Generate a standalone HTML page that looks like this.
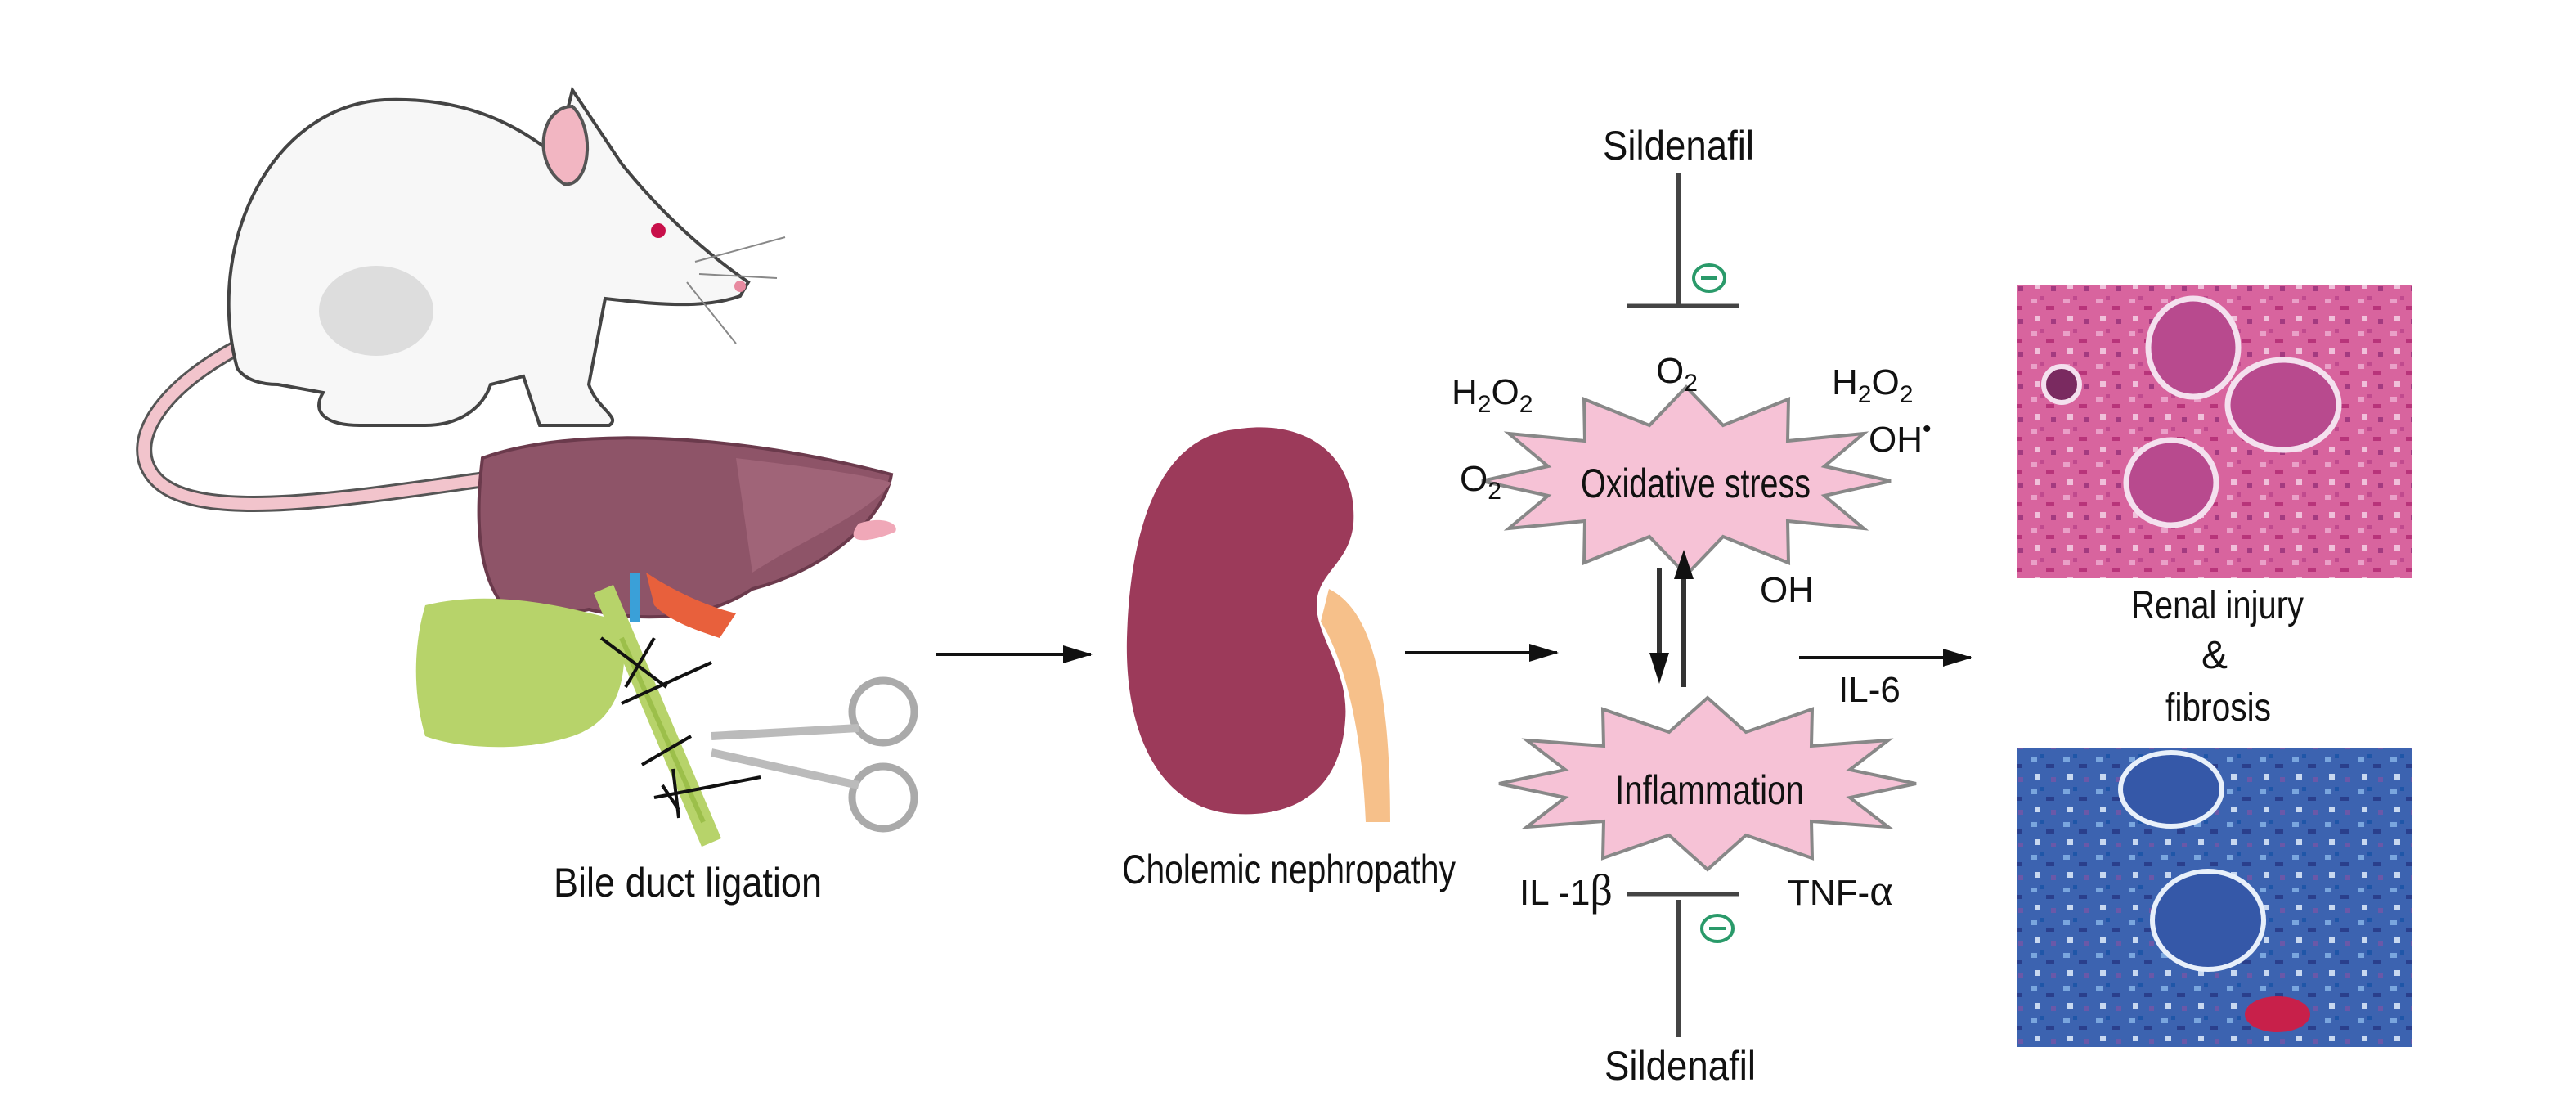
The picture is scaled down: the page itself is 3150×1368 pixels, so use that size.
<!DOCTYPE html>
<html><head><meta charset="utf-8"><style>
html,body{margin:0;padding:0;background:#fff}
svg{display:block}
text{font-family:"Liberation Sans Narrow","Liberation Sans",sans-serif;fill:#111}
</style></head><body>
<svg width="3150" height="1368" viewBox="0 0 3150 1368" xmlns="http://www.w3.org/2000/svg">
<defs>
<marker id="ah" markerWidth="36" markerHeight="22" refX="34" refY="11" orient="auto" markerUnits="userSpaceOnUse">
<path d="M0,0 L36,11 L0,22 z" fill="#111"/></marker>
<marker id="ah2" markerWidth="26" markerHeight="34" refX="13" refY="32" orient="auto-start-reverse" markerUnits="userSpaceOnUse" viewBox="0 0 26 34">
<path d="M0,0 L26,0 L13,34 z" fill="#111" transform="rotate(-90 13 17)"/></marker>
<pattern id="pk" width="40" height="40" patternUnits="userSpaceOnUse">
<rect width="40" height="40" fill="#d8649e"/>
<rect x="3" y="5" width="8" height="6" fill="#eaa0c8"/>
<rect x="22" y="14" width="10" height="5" fill="#b8347a"/>
<rect x="8" y="26" width="7" height="7" fill="#f0c0da"/>
<rect x="28" y="30" width="6" height="6" fill="#a33a80"/>
<rect x="15" y="2" width="5" height="5" fill="#c04a8e"/>
</pattern>
<pattern id="bl" width="40" height="40" patternUnits="userSpaceOnUse">
<rect width="40" height="40" fill="#3c63b0"/>
<rect x="3" y="5" width="8" height="6" fill="#7aa6de"/>
<rect x="22" y="14" width="10" height="5" fill="#2a3f8c"/>
<rect x="8" y="26" width="7" height="7" fill="#c8d8f0"/>
<rect x="28" y="30" width="6" height="6" fill="#6a58a8"/>
<rect x="15" y="2" width="5" height="5" fill="#1f56a8"/>
</pattern>
</defs>

<!-- Rat tail -->
<path d="M300,420 C200,470 150,540 190,585 C240,640 420,610 600,585" fill="none" stroke="#555" stroke-width="20" stroke-linecap="round"/>
<path d="M300,420 C200,470 150,540 190,585 C240,640 420,610 600,585" fill="none" stroke="#f2c4cc" stroke-width="14" stroke-linecap="round"/>
<!-- Rat body -->
<path d="M290,450 C250,300 330,130 470,122 C580,118 640,160 680,190 L700,110 L760,200 C800,250 850,300 915,345 L905,362 C860,378 800,372 740,365 L720,470 C730,500 760,510 745,520 L660,520 L640,460 L600,470 C590,500 560,520 520,520 L440,520 C400,520 380,505 395,480 L340,470 C320,470 300,465 290,450 z" fill="#f7f7f7" stroke="#444" stroke-width="4"/>
<ellipse cx="460" cy="380" rx="70" ry="55" fill="#ddd"/>
<path d="M700,130 C660,130 650,200 690,225 C720,230 730,160 700,130z" fill="#f2b6c2" stroke="#555" stroke-width="4"/>
<circle cx="805" cy="282" r="9" fill="#c8104a"/>
<circle cx="905" cy="350" r="7" fill="#e88aa0"/>
<path d="M850,320 L960,290 M855,335 L950,340 M840,345 L900,420" stroke="#888" stroke-width="2"/>
<!-- Liver -->
<path d="M590,560 C700,520 900,530 1090,580 C1080,640 1000,700 920,720 C860,760 780,760 720,745 L640,760 C600,740 575,680 590,560z" fill="#8e5468" stroke="#6b3a4c" stroke-width="4"/>
<path d="M900,560 C980,570 1060,580 1090,590 C1060,630 980,660 920,700 z" fill="#a06478"/>
<path d="M1050,640 C1080,630 1100,640 1095,650 C1060,665 1030,665 1050,640z" fill="#f0a8b8"/>
<path d="M790,700 C820,720 860,740 900,750 L880,780 C850,770 820,760 800,740 z" fill="#e8603c"/>
<rect x="770" y="700" width="12" height="60" fill="#3aa0d8"/>
<!-- Gallbladder -->
<path d="M520,740 C600,720 690,740 760,760 C770,820 760,880 700,900 C640,920 560,915 520,900 C505,850 505,790 520,740z" fill="#b7d36a"/>
<path d="M738,720 L870,1030" stroke="#b7d36a" stroke-width="26"/>
<path d="M760,780 L860,1005" stroke="#9cbf4a" stroke-width="6"/>
<path d="M735,780 L815,840 M800,780 L765,840 M760,860 L870,810 M785,935 L845,900 M810,960 L830,990 M800,975 L930,950 M823,940 L830,1000" stroke="#111" stroke-width="4"/>
<!-- scissors -->
<circle cx="1080" cy="870" r="38" fill="none" stroke="#aaa" stroke-width="9"/>
<circle cx="1080" cy="975" r="38" fill="none" stroke="#aaa" stroke-width="9"/>
<path d="M870,900 L1050,890 M870,920 L1050,960" stroke="#bbb" stroke-width="10"/>

<text x="677" y="1096" font-size="50" textLength="328" lengthAdjust="spacingAndGlyphs">Bile duct ligation</text>
<line x1="1145" y1="800" x2="1334" y2="800" stroke="#111" stroke-width="4" marker-end="url(#ah)"/>

<!-- Kidney -->
<path d="M1625,720 C1665,740 1700,800 1700,1005 L1670,1005 C1665,880 1640,800 1615,760z" fill="#f6c08a"/>
<path d="M1510,525 C1600,510 1660,560 1655,640 C1650,690 1610,700 1610,740 C1610,780 1650,820 1645,880 C1640,960 1590,1000 1510,995 C1420,990 1375,900 1378,780 C1382,640 1420,535 1510,525z" fill="#9c3a5a"/>
<text x="1372" y="1080" font-size="50" textLength="408" lengthAdjust="spacingAndGlyphs">Cholemic nephropathy</text>
<line x1="1718" y1="798" x2="1904" y2="798" stroke="#111" stroke-width="4" marker-end="url(#ah)"/>

<!-- Top sildenafil -->
<text x="1960" y="195" font-size="50" textLength="185" lengthAdjust="spacingAndGlyphs">Sildenafil</text>
<line x1="2053" y1="212" x2="2053" y2="372" stroke="#444" stroke-width="6"/>
<line x1="1990" y1="374" x2="2126" y2="374" stroke="#444" stroke-width="5"/>
<ellipse cx="2090" cy="340" rx="19" ry="16" fill="none" stroke="#2a9a6a" stroke-width="4"/>
<line x1="2080" y1="340" x2="2100" y2="340" stroke="#2a9a6a" stroke-width="4"/>

<!-- Oxidative stress star -->
<polygon points="2312,588 2231,606 2279,646 2186,637 2187,688 2107,656 2062,703 2017,656 1937,688 1938,637 1845,646 1893,606 1812,588 1893,570 1845,530 1938,539 1937,488 2017,520 2062,473 2107,520 2187,488 2186,539 2279,530 2231,570" fill="#f6c2d6" stroke="#888" stroke-width="4"/>
<text x="1933" y="608" font-size="50" textLength="281" lengthAdjust="spacingAndGlyphs">Oxidative stress</text>
<text x="1775" y="494" font-size="44">H<tspan font-size="30" dy="10">2</tspan><tspan dy="-10">O</tspan><tspan font-size="30" dy="10">2</tspan></text>
<text x="1785" y="600" font-size="44">O<tspan font-size="30" dy="10">2</tspan></text>
<text x="2025" y="468" font-size="44">O<tspan font-size="30" dy="10">2</tspan></text>
<text x="2240" y="482" font-size="44">H<tspan font-size="30" dy="10">2</tspan><tspan dy="-10">O</tspan><tspan font-size="30" dy="10">2</tspan></text>
<text x="2285" y="552" font-size="44">OH<tspan font-size="30" dy="-18">•</tspan></text>
<text x="2152" y="736" font-size="44">OH</text>

<!-- bidirectional arrows -->
<line x1="2029" y1="695" x2="2029" y2="800" stroke="#333" stroke-width="6"/>
<path d="M2017,798 L2041,798 L2029,836 z" fill="#111"/>
<line x1="2059" y1="840" x2="2059" y2="705" stroke="#333" stroke-width="6"/>
<path d="M2047,708 L2071,708 L2059,672 z" fill="#111"/>
<line x1="2200" y1="804" x2="2410" y2="804" stroke="#111" stroke-width="4" marker-end="url(#ah)"/>
<text x="2248" y="858" font-size="44">IL-6</text>

<!-- Inflammation star -->
<polygon points="2343,958 2262,975 2309,1011 2215,1004 2216,1049 2135,1021 2088,1063 2041,1021 1960,1049 1961,1004 1867,1011 1914,975 1833,958 1914,941 1867,905 1961,912 1960,867 2041,895 2088,853 2135,895 2216,867 2215,912 2309,905 2262,941" fill="#f6c2d6" stroke="#888" stroke-width="4"/>
<text x="1975" y="983" font-size="50" textLength="231" lengthAdjust="spacingAndGlyphs">Inflammation</text>
<text x="1858" y="1106" font-size="44">IL -1<tspan font-family="Liberation Serif" font-size="54">β</tspan></text>
<text x="2186" y="1106" font-size="44">TNF-<tspan font-family="Liberation Serif" font-size="54">α</tspan></text>

<!-- Bottom sildenafil -->
<line x1="1990" y1="1093" x2="2126" y2="1093" stroke="#444" stroke-width="5"/>
<line x1="2053" y1="1100" x2="2053" y2="1268" stroke="#444" stroke-width="6"/>
<ellipse cx="2100" cy="1135" rx="19" ry="16" fill="none" stroke="#2a9a6a" stroke-width="4"/>
<line x1="2090" y1="1135" x2="2110" y2="1135" stroke="#2a9a6a" stroke-width="4"/>
<text x="1962" y="1320" font-size="50" textLength="185" lengthAdjust="spacingAndGlyphs">Sildenafil</text>

<!-- Histology -->
<rect x="2467" y="348" width="482" height="359" fill="url(#pk)"/>
<ellipse cx="2682" cy="425" rx="55" ry="60" fill="#b84a8e" stroke="#f4e0ee" stroke-width="7"/>
<ellipse cx="2792" cy="495" rx="68" ry="55" fill="#b84a8e" stroke="#f4e0ee" stroke-width="7"/>
<ellipse cx="2655" cy="590" rx="55" ry="52" fill="#b84a8e" stroke="#f4e0ee" stroke-width="7"/>
<ellipse cx="2521" cy="470" rx="22" ry="22" fill="#7a2a60" stroke="#f4e0ee" stroke-width="6"/>
<text x="2606" y="756" font-size="48" textLength="211" lengthAdjust="spacingAndGlyphs">Renal injury</text>
<text x="2708" y="817" font-size="48" text-anchor="middle">&amp;</text>
<text x="2648" y="881" font-size="48" textLength="129" lengthAdjust="spacingAndGlyphs">fibrosis</text>
<rect x="2467" y="914" width="482" height="366" fill="url(#bl)"/>
<ellipse cx="2655" cy="965" rx="62" ry="45" fill="#3558a8" stroke="#e8f0fa" stroke-width="6"/>
<ellipse cx="2700" cy="1125" rx="68" ry="60" fill="#3558a8" stroke="#e8f0fa" stroke-width="6"/>
<ellipse cx="2785" cy="1240" rx="40" ry="22" fill="#c8204a"/>
</svg>
</body></html>
